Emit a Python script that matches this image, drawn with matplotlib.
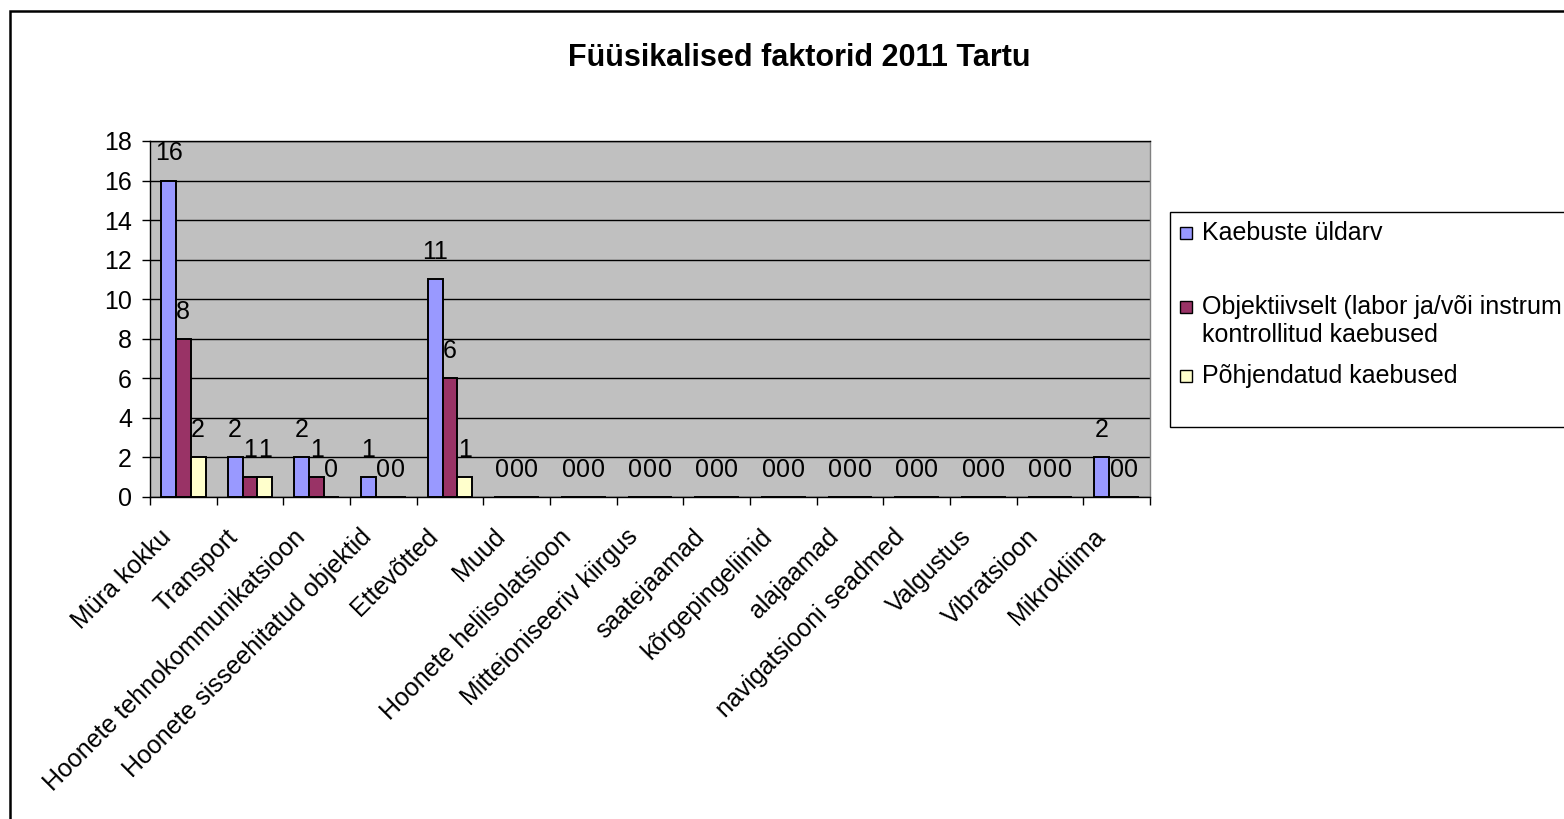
import matplotlib
matplotlib.use("Agg")
import matplotlib.pyplot as plt
import matplotlib.transforms as mtransforms
from matplotlib.patches import Rectangle
import numpy as np

plt.rcParams['font.family'] = ['Liberation Sans', 'DejaVu Sans']

title = "Füüsikalised faktorid 2011 Tartu"
categories = ["Müra kokku", "Transport", "Hoonete tehnokommunikatsioon",
              "Hoonete sisseehitatud objektid", "Ettevõtted", "Muud",
              "Hoonete heliisolatsioon", "Mitteioniseeriv kiirgus", "saatejaamad",
              "kõrgepingeliinid", "alajaamad", "navigatsiooni seadmed",
              "Valgustus", "Vibratsioon", "Mikrokliima"]
# legend labels as visible in the chart (second one wraps to two lines)
series_names = [["Kaebuste üldarv"],
                ["Objektiivselt (labor ja/või instrum", "kontrollitud kaebused"],
                ["Põhjendatud kaebused"]]
kaebuste_uldarv = [16, 2, 2, 1, 11, 0, 0, 0, 0, 0, 0, 0, 0, 0, 2]
objektiivselt = [8, 1, 1, 0, 6, 0, 0, 0, 0, 0, 0, 0, 0, 0, 0]
pohjendatud = [2, 1, 0, 0, 1, 0, 0, 0, 0, 0, 0, 0, 0, 0, 0]
y_ticks = [0, 2, 4, 6, 8, 10, 12, 14, 16, 18]

series = [kaebuste_uldarv, objektiivselt, pohjendatud]
colors = ["#9999FF", "#993366", "#FFFFCC"]

W, H = 1564, 819
fig = plt.figure(figsize=(W / 100, H / 100), dpi=100)
fig.patch.set_facecolor("white")

# outer chart border
fig.patches.append(Rectangle((10 / W, -0.1), 1.2, (H - 11) / H + 0.1,
                             transform=fig.transFigure, fill=False,
                             edgecolor="black", linewidth=1.8, zorder=0))

ax = fig.add_axes([150 / W, 1 - 497 / H, 1000 / W, (497 - 141) / H])
ax.set_facecolor("#C0C0C0")

n = len(categories)
x = np.arange(n) + 0.5
w = 1 / 4.5
for i, (vals, col) in enumerate(zip(series, colors)):
    xpos = x + (i - 1) * w
    ax.bar(xpos, vals, width=w, color=col, edgecolor="black", linewidth=1.4,
           zorder=3)
    for xp, v in zip(xpos, vals):
        ax.annotate(str(v), (xp, v), xytext=(0, 19.5), textcoords="offset points",
                    ha="center", va="center", fontsize=18, zorder=4)

ax.set_xlim(0, n)
ax.set_ylim(0, 18)
ax.set_yticks(y_ticks)
ax.yaxis.grid(True, color="black", linewidth=1.0, zorder=1)
ax.set_axisbelow(True)
ax.tick_params(axis="y", direction="out", length=6, width=1, pad=7,
               labelsize=18, colors="black")

ax.set_xticks(np.arange(n + 1))
ax.set_xticklabels([])
ax.tick_params(axis="x", which="major", direction="out", length=6, width=1)
ax.set_xticks(x, minor=True)
ax.set_xticklabels(categories, minor=True, rotation=45, ha="right", va="top",
                   fontsize=18)
ax.tick_params(axis="x", which="minor", length=0, pad=20)
offset = mtransforms.ScaledTranslation(-7 / 100, 0, fig.dpi_scale_trans)
for lab in ax.get_xticklabels(minor=True):
    lab.set_transform(lab.get_transform() + offset)

for s in ["left", "bottom", "top"]:
    ax.spines[s].set_color("black")
    ax.spines[s].set_linewidth(1.0)
ax.spines["right"].set_color("#808080")
ax.spines["right"].set_linewidth(1.0)

fig.text(799 / W, 1 - 58 / H, title, ha="center", va="center",
         fontsize=22, fontweight="bold")

# legend
fig.patches.append(Rectangle((1170 / W, 1 - 427 / H), 0.5, (427 - 212) / H,
                             transform=fig.transFigure, facecolor="white",
                             edgecolor="black", linewidth=1.0, zorder=1))
leg_y = [233, 307, 376]
line_gap = 28
for lines, col, yy in zip(series_names, colors, leg_y):
    fig.patches.append(Rectangle((1180 / W, 1 - (yy + 6) / H), 12 / W, 12 / H,
                                 transform=fig.transFigure, facecolor=col,
                                 edgecolor="black", linewidth=1.0, zorder=2))
    for k, line in enumerate(lines):
        fig.text(1202 / W, 1 - (yy + k * line_gap) / H, line, ha="left",
                 va="center", fontsize=18, zorder=3)

fig.savefig("out.png", dpi=100)
